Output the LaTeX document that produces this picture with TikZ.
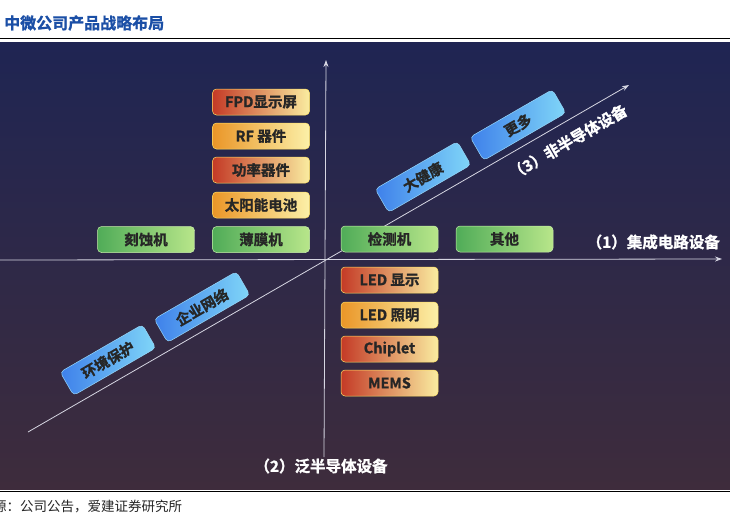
\documentclass[tikz,border=0pt]{standalone}
\usepackage{fontspec}
\setmainfont{Noto Sans CJK SC}[BoldFont={* Bold}, BoldFeatures={FakeBold=1.2}]
\usetikzlibrary{arrows.meta}
\definecolor{titleblue}{HTML}{1B4FA6}
\definecolor{bgtop}{HTML}{1F2553}
\definecolor{bgmid}{HTML}{2A2748}
\definecolor{bgbot}{HTML}{3E2C3C}
\definecolor{axisc}{HTML}{D6D6E2}
\definecolor{txtc}{HTML}{262626}
\tikzset{
  base/.style={rounded corners=4pt, minimum width=97pt, minimum height=26pt, inner sep=0pt,
     font=\bfseries\fontsize{14.5}{15}\selectfont, text=txtc, line width=0.5pt},
  redbox/.style={base, draw=orange!40!yellow!60, left color={rgb,255:red,196;green,58;blue,38}, middle color={rgb,255:red,236;green,170;blue,80}, right color={rgb,255:red,250;green,236;blue,160}},
  yelbox/.style={base, draw=orange!40!yellow!60, left color={rgb,255:red,234;green,150;blue,40}, middle color={rgb,255:red,246;green,205;blue,100}, right color={rgb,255:red,252;green,240;blue,168}},
  grnbox/.style={base, draw={rgb,255:red,200;green,240;blue,170}, left color={rgb,255:red,80;green,172;blue,88}, right color={rgb,255:red,184;green,230;blue,138}},
  blubox/.style={base, rotate=30, minimum width=95pt, minimum height=27pt, draw={rgb,255:red,150;green,215;blue,250}, left color={rgb,255:red,62;green,128;blue,234}, right color={rgb,255:red,128;green,214;blue,248}},
  axisline/.style={draw=axisc, line width=0.8pt},
  axislabel/.style={text=white, font=\bfseries\fontsize{15.5}{16}\selectfont, inner sep=0pt}
}
\begin{document}
\begin{tikzpicture}[x=1pt,y=-1pt]
\useasboundingbox (0,0) rectangle (730,520);
\fill[white] (0,0) rectangle (730,520);
% title
\node[anchor=west, text=titleblue, font=\bfseries\fontsize{16}{16}\selectfont, inner sep=0pt] (title) at (4,23) {中微公司产品战略布局};
\draw[line width=1.3pt, black] (0,38.5) -- (730,38.5);
% panel
\shade[top color=bgtop, middle color=bgmid, bottom color=bgbot] (0,42) rectangle (730,489);
\draw[line width=1pt, black] (0,491) -- (730,491);
% source
\node[anchor=west, text=black!85, font=\fontsize{13.5}{14}\selectfont, inner sep=0pt] (src) at (-7,506) {源：公司公告，爱建证券研究所};
% axes
\coordinate (O) at (326,260);
\coordinate (xl) at (0,260);
\coordinate (xr) at (722,259);
\coordinate (yt) at (326,60);
\coordinate (yb) at (324,457);
\coordinate (dl) at (28,432);
\coordinate (dr) at (629,85);
\draw[axisline, -{Stealth[length=7pt,width=5pt]}] (xl) -- (xr);
\draw[axisline, -{Stealth[length=7pt,width=5pt]}] (yb) -- (yt);
\draw[axisline, -{Stealth[length=7pt,width=5pt]}] (dl) -- (dr);
% axis labels
\node[axislabel, anchor=east] (l1) at (720,242) {（1）集成电路设备};
\node[axislabel] (l2) at (321,466) {（2）泛半导体设备};
\node[axislabel, rotate=30] (l3) at (568,142) {（3）非半导体设备};
% left column
\node[redbox] (fpd) at (261,102) {FPD显示屏};
\node[yelbox] (rf) at (261,136) {RF 器件};
\node[redbox] (gl) at (261,170) {功率器件};
\node[yelbox] (ty) at (261,205) {太阳能电池};
\node[grnbox] (bm) at (261,239.5) {薄膜机};
\node[grnbox] (ks) at (146,239.5) {刻蚀机};
% right of origin
\node[grnbox] (jc) at (389.5,239) {检测机};
\node[grnbox] (qt) at (504.5,239) {其他};
\node[redbox] (ledx) at (389.5,280) {LED 显示};
\node[yelbox] (ledz) at (389.5,315) {LED 照明};
\node[redbox] (chip) at (389.5,349) {Chiplet};
\node[redbox] (mems) at (389.5,383) {MEMS};
% diagonal
\node[blubox] (djk) at (423,177) {大健康};
\node[blubox] (gd) at (518,125) {更多};
\node[blubox] (qy) at (202,307) {企业网络};
\node[blubox] (hj) at (108,360) {环境保护};
\end{tikzpicture}
\end{document}
